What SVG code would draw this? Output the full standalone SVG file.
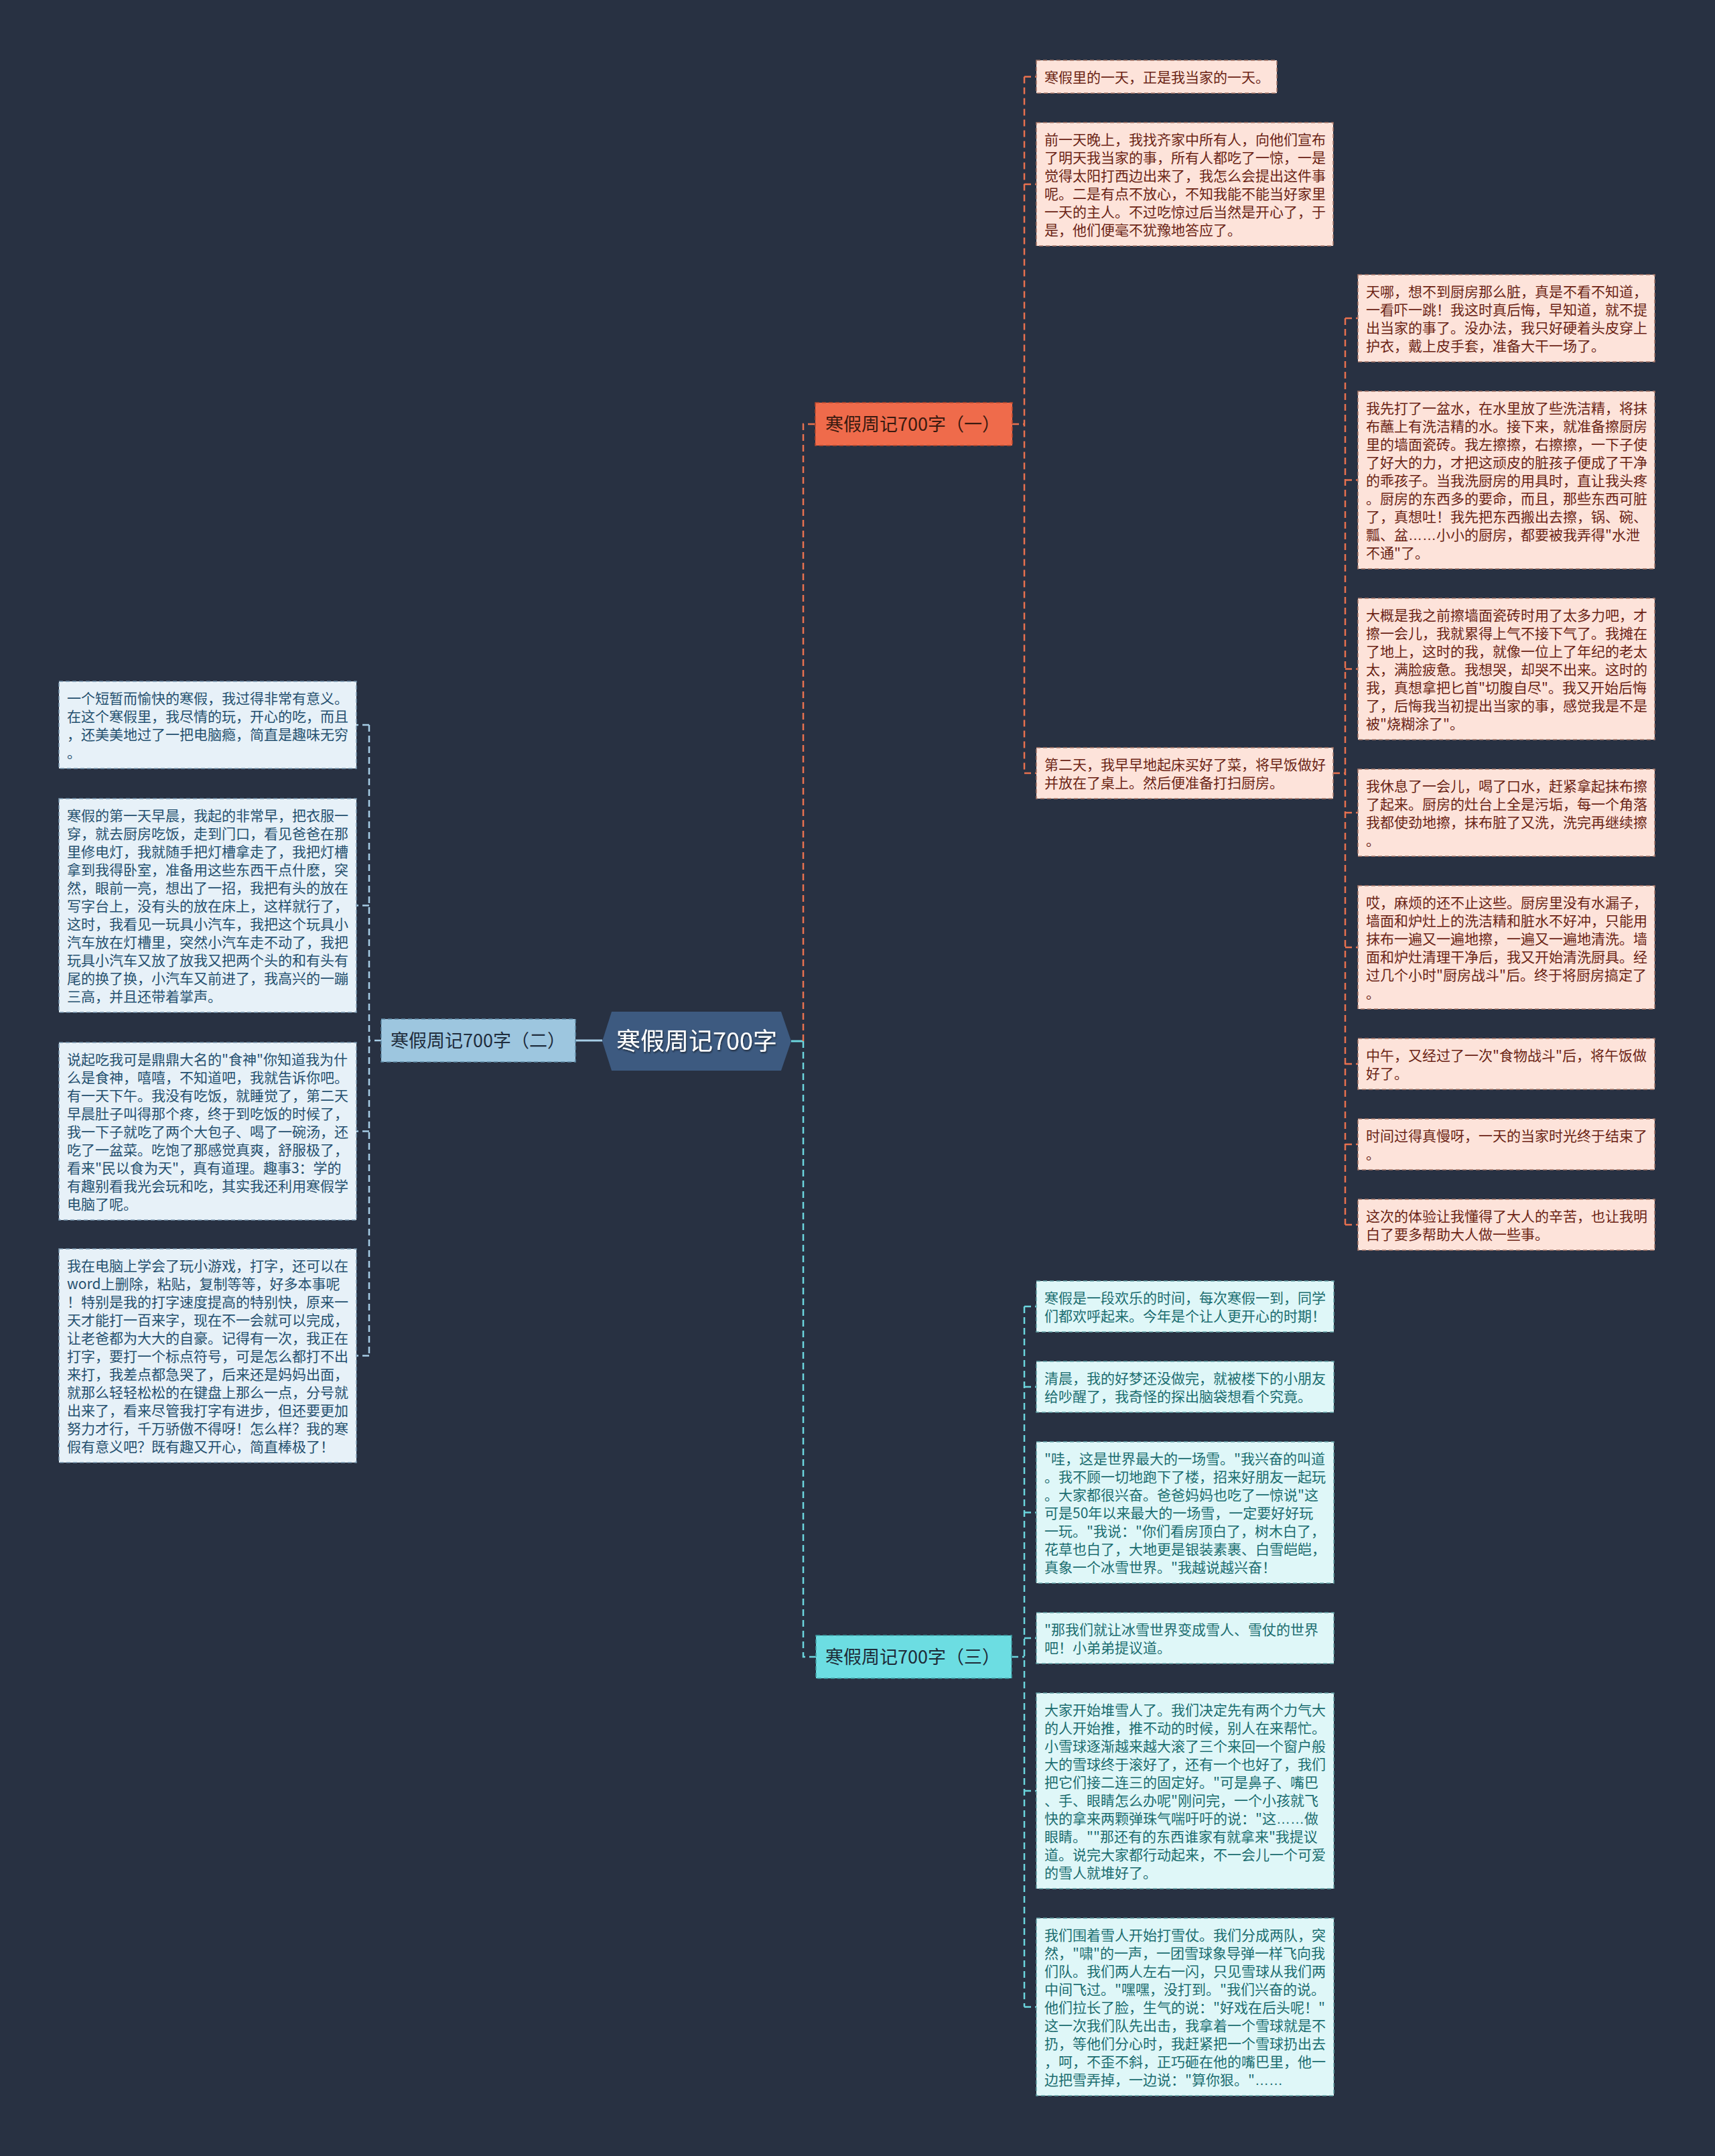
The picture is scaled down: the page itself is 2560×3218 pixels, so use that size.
<svg xmlns="http://www.w3.org/2000/svg" width="2560" height="3218" viewBox="0 0 2560 3218">
<defs>
<style>
text{font-family:"Noto Sans CJK SC","Noto Sans",sans-serif;}
.el{font-family:"Liberation Sans",sans-serif;}
.p rect{fill:#fde3da;stroke:#a8786a;stroke-width:1.5;stroke-dasharray:6 4;}
.p text{fill:#6b2415;font-size:21px;}
.b rect{fill:#e7f1f8;stroke:#7a98b0;stroke-width:1.5;stroke-dasharray:6 4;}
.b text{fill:#25506f;font-size:21px;}
.c rect{fill:#dff7f8;stroke:#64a4a8;stroke-width:1.5;stroke-dasharray:6 4;}
.c text{fill:#1b6d70;font-size:21px;}
.br text{font-size:27px;}
.cn path{fill:none;stroke-width:2.5;stroke-dasharray:10 6;}
.o{stroke:#e8714f;}
.lb{stroke:#a6cde6;}
.cy{stroke:#6bd5dd;}
</style>
<filter id="sh" x="-10%" y="-10%" width="120%" height="130%"><feDropShadow dx="1" dy="2" stdDeviation="1" flood-color="#17202c" flood-opacity="0.8"/></filter>
</defs>
<rect width="2560" height="3218" fill="#283142"/>

<g id="connectors" class="cn">
<path class="lb" d="M859,1553 H899" style="stroke-dasharray:none;stroke-width:3"/>
<path class="cy" d="M1181,1554 H1199" style="stroke-dasharray:none;stroke-width:3"/>
<path class="o" d="M1199,1554 V633 H1217"/>
<path class="cy" d="M1199,1554 V2473 H1218"/>
<path class="o" d="M1511,633 H1529 M1529,114.5 V1154 M1529,114.5 H1547 M1529,275 H1547 M1529,1154 H1547"/>
<path class="o" d="M1990,1154 H2008 M2008,475 V1828 M2008,475 H2027 M2008,716.5 H2027 M2008,998.5 H2027 M2008,1213 H2027 M2008,1414 H2027 M2008,1588 H2027 M2008,1708 H2027 M2008,1828 H2027"/>
<path class="lb" d="M569,1553 H551 M551,1082 V2023.5 M551,1082 H532 M551,1351.5 H532 M551,1688.5 H532 M551,2023.5 H532"/>
<path class="cy" d="M1510,2473 H1529 M1529,1950 V2995.5 M1529,1950 H1547 M1529,2070 H1547 M1529,2257.5 H1547 M1529,2445 H1547 M1529,2673 H1547 M1529,2995.5 H1547"/>
</g>

<g id="root">
<polygon points="899,1554 913,1510 1166,1510 1181,1554 1166,1598 913,1598" fill="#3d5a80"/>
<text x="1040" y="1567" font-size="36" fill="#ffffff" text-anchor="middle" filter="url(#sh)">寒假周记700字</text>
</g>

<g id="branch1" class="br">
<rect x="1217" y="601" width="294" height="64" fill="#ef6b4b" stroke="#b5482e" stroke-width="1.5" stroke-dasharray="6 4"/>
<text x="1232" y="643" fill="#3a1a10">寒假周记700字（一）</text>
</g>
<g id="branch2" class="br">
<rect x="569" y="1521" width="290" height="64" fill="#9dc6df" stroke="#5f8aa6" stroke-width="1.5" stroke-dasharray="6 4"/>
<text x="583" y="1563" fill="#1f2d3d">寒假周记700字（二）</text>
</g>
<g id="branch3" class="br">
<rect x="1218" y="2441" width="292" height="64" fill="#6cdde2" stroke="#3f9ea4" stroke-width="1.5" stroke-dasharray="6 4"/>
<text x="1232" y="2483" fill="#1d2b38">寒假周记700字（三）</text>
</g>

<g id="n1" class="p"><rect x="1547" y="90" width="359" height="49"/>
<text x="1559" y="123">寒假里的一天，正是我当家的一天。</text></g>

<g id="n2" class="p"><rect x="1547" y="183" width="443" height="184"/>
<text x="1559" y="216">前一天晚上，我找齐家中所有人，向他们宣布</text>
<text x="1559" y="243">了明天我当家的事，所有人都吃了一惊，一是</text>
<text x="1559" y="270">觉得太阳打西边出来了，我怎么会提出这件事</text>
<text x="1559" y="297">呢。二是有点不放心，不知我能不能当好家里</text>
<text x="1559" y="324">一天的主人。不过吃惊过后当然是开心了，于</text>
<text x="1559" y="351">是，他们便毫不犹豫地答应了。</text></g>

<g id="n3" class="p"><rect x="1547" y="1116" width="443" height="76"/>
<text x="1559" y="1149">第二天，我早早地起床买好了菜，将早饭做好</text>
<text x="1559" y="1176">并放在了桌上。然后便准备打扫厨房。</text></g>

<g id="a1" class="p"><rect x="2027" y="410" width="443" height="130"/>
<text x="2039" y="443">天哪，想不到厨房那么脏，真是不看不知道，</text>
<text x="2039" y="470">一看吓一跳！我这时真后悔，早知道，就不提</text>
<text x="2039" y="497">出当家的事了。没办法，我只好硬着头皮穿上</text>
<text x="2039" y="524">护衣，戴上皮手套，准备大干一场了。</text></g>

<g id="a2" class="p"><rect x="2027" y="584" width="443" height="265"/>
<text x="2039" y="617">我先打了一盆水，在水里放了些洗洁精，将抹</text>
<text x="2039" y="644">布蘸上有洗洁精的水。接下来，就准备擦厨房</text>
<text x="2039" y="671">里的墙面瓷砖。我左擦擦，右擦擦，一下子使</text>
<text x="2039" y="698">了好大的力，才把这顽皮的脏孩子便成了干净</text>
<text x="2039" y="725">的乖孩子。当我洗厨房的用具时，直让我头疼</text>
<text x="2039" y="752">。厨房的东西多的要命，而且，那些东西可脏</text>
<text x="2039" y="779">了，真想吐！我先把东西搬出去擦，锅、碗、</text>
<text x="2039" y="806">瓢、盆<tspan class="el">……</tspan>小小的厨房，都要被我弄得"水泄</text>
<text x="2039" y="833">不通"了。</text></g>

<g id="a3" class="p"><rect x="2027" y="893" width="443" height="211"/>
<text x="2039" y="926">大概是我之前擦墙面瓷砖时用了太多力吧，才</text>
<text x="2039" y="953">擦一会儿，我就累得上气不接下气了。我摊在</text>
<text x="2039" y="980">了地上，这时的我，就像一位上了年纪的老太</text>
<text x="2039" y="1007">太，满脸疲惫。我想哭，却哭不出来。这时的</text>
<text x="2039" y="1034">我，真想拿把匕首"切腹自尽"。我又开始后悔</text>
<text x="2039" y="1061">了，后悔我当初提出当家的事，感觉我是不是</text>
<text x="2039" y="1088">被"烧糊涂了"。</text></g>

<g id="a4" class="p"><rect x="2027" y="1148" width="443" height="130"/>
<text x="2039" y="1181">我休息了一会儿，喝了口水，赶紧拿起抹布擦</text>
<text x="2039" y="1208">了起来。厨房的灶台上全是污垢，每一个角落</text>
<text x="2039" y="1235">我都使劲地擦，抹布脏了又洗，洗完再继续擦</text>
<text x="2039" y="1262">。</text></g>

<g id="a5" class="p"><rect x="2027" y="1322" width="443" height="184"/>
<text x="2039" y="1355">哎，麻烦的还不止这些。厨房里没有水漏子，</text>
<text x="2039" y="1382">墙面和炉灶上的洗洁精和脏水不好冲，只能用</text>
<text x="2039" y="1409">抹布一遍又一遍地擦，一遍又一遍地清洗。墙</text>
<text x="2039" y="1436">面和炉灶清理干净后，我又开始清洗厨具。经</text>
<text x="2039" y="1463">过几个小时"厨房战斗"后。终于将厨房搞定了</text>
<text x="2039" y="1490">。</text></g>

<g id="a6" class="p"><rect x="2027" y="1550" width="443" height="76"/>
<text x="2039" y="1583">中午，又经过了一次"食物战斗"后，将午饭做</text>
<text x="2039" y="1610">好了。</text></g>

<g id="a7" class="p"><rect x="2027" y="1670" width="443" height="76"/>
<text x="2039" y="1703">时间过得真慢呀，一天的当家时光终于结束了</text>
<text x="2039" y="1730">。</text></g>

<g id="a8" class="p"><rect x="2027" y="1790" width="443" height="76"/>
<text x="2039" y="1823">这次的体验让我懂得了大人的辛苦，也让我明</text>
<text x="2039" y="1850">白了要多帮助大人做一些事。</text></g>

<g id="c1" class="b"><rect x="88" y="1017" width="444" height="130"/>
<text x="100" y="1050">一个短暂而愉快的寒假，我过得非常有意义。</text>
<text x="100" y="1077">在这个寒假里，我尽情的玩，开心的吃，而且</text>
<text x="100" y="1104">，还美美地过了一把电脑瘾，简直是趣味无穷</text>
<text x="100" y="1131">。</text></g>

<g id="c2" class="b"><rect x="88" y="1192" width="444" height="319"/>
<text x="100" y="1225">寒假的第一天早晨，我起的非常早，把衣服一</text>
<text x="100" y="1252">穿，就去厨房吃饭，走到门口，看见爸爸在那</text>
<text x="100" y="1279">里修电灯，我就随手把灯槽拿走了，我把灯槽</text>
<text x="100" y="1306">拿到我得卧室，准备用这些东西干点什麽，突</text>
<text x="100" y="1333">然，眼前一亮，想出了一招，我把有头的放在</text>
<text x="100" y="1360">写字台上，没有头的放在床上，这样就行了，</text>
<text x="100" y="1387">这时，我看见一玩具小汽车，我把这个玩具小</text>
<text x="100" y="1414">汽车放在灯槽里，突然小汽车走不动了，我把</text>
<text x="100" y="1441">玩具小汽车又放了放我又把两个头的和有头有</text>
<text x="100" y="1468">尾的换了换，小汽车又前进了，我高兴的一蹦</text>
<text x="100" y="1495">三高，并且还带着掌声。</text></g>

<g id="c3" class="b"><rect x="88" y="1556" width="444" height="265"/>
<text x="100" y="1589">说起吃我可是鼎鼎大名的"食神"你知道我为什</text>
<text x="100" y="1616">么是食神，嘻嘻，不知道吧，我就告诉你吧。</text>
<text x="100" y="1643">有一天下午。我没有吃饭，就睡觉了，第二天</text>
<text x="100" y="1670">早晨肚子叫得那个疼，终于到吃饭的时候了，</text>
<text x="100" y="1697">我一下子就吃了两个大包子、喝了一碗汤，还</text>
<text x="100" y="1724">吃了一盆菜。吃饱了那感觉真爽，舒服极了，</text>
<text x="100" y="1751">看来"民以食为天"，真有道理。趣事3：学的</text>
<text x="100" y="1778">有趣别看我光会玩和吃，其实我还利用寒假学</text>
<text x="100" y="1805">电脑了呢。</text></g>

<g id="c4" class="b"><rect x="88" y="1864" width="444" height="319"/>
<text x="100" y="1897">我在电脑上学会了玩小游戏，打字，还可以在</text>
<text x="100" y="1924">word上删除，粘贴，复制等等，好多本事呢</text>
<text x="100" y="1951">！特别是我的打字速度提高的特别快，原来一</text>
<text x="100" y="1978">天才能打一百来字，现在不一会就可以完成，</text>
<text x="100" y="2005">让老爸都为大大的自豪。记得有一次，我正在</text>
<text x="100" y="2032">打字，要打一个标点符号，可是怎么都打不出</text>
<text x="100" y="2059">来打，我差点都急哭了，后来还是妈妈出面，</text>
<text x="100" y="2086">就那么轻轻松松的在键盘上那么一点，分号就</text>
<text x="100" y="2113">出来了，看来尽管我打字有进步，但还要更加</text>
<text x="100" y="2140">努力才行，千万骄傲不得呀！怎么样？我的寒</text>
<text x="100" y="2167">假有意义吧？既有趣又开心，简直棒极了！</text></g>

<g id="b1" class="c"><rect x="1547" y="1912" width="444" height="76"/>
<text x="1559" y="1945">寒假是一段欢乐的时间，每次寒假一到，同学</text>
<text x="1559" y="1972">们都欢呼起来。今年是个让人更开心的时期！</text></g>

<g id="b2" class="c"><rect x="1547" y="2032" width="444" height="76"/>
<text x="1559" y="2065">清晨，我的好梦还没做完，就被楼下的小朋友</text>
<text x="1559" y="2092">给吵醒了，我奇怪的探出脑袋想看个究竟。</text></g>

<g id="b3" class="c"><rect x="1547" y="2152" width="444" height="211"/>
<text x="1559" y="2185">"哇，这是世界最大的一场雪。"我兴奋的叫道</text>
<text x="1559" y="2212">。我不顾一切地跑下了楼，招来好朋友一起玩</text>
<text x="1559" y="2239">。大家都很兴奋。爸爸妈妈也吃了一惊说"这</text>
<text x="1559" y="2266">可是50年以来最大的一场雪，一定要好好玩</text>
<text x="1559" y="2293">一玩。"我说："你们看房顶白了，树木白了，</text>
<text x="1559" y="2320">花草也白了，大地更是银装素裹、白雪皑皑，</text>
<text x="1559" y="2347">真象一个冰雪世界。"我越说越兴奋！</text></g>

<g id="b4" class="c"><rect x="1547" y="2407" width="444" height="76"/>
<text x="1559" y="2440">"那我们就让冰雪世界变成雪人、雪仗的世界</text>
<text x="1559" y="2467">吧！小弟弟提议道。</text></g>

<g id="b5" class="c"><rect x="1547" y="2527" width="444" height="292"/>
<text x="1559" y="2560">大家开始堆雪人了。我们决定先有两个力气大</text>
<text x="1559" y="2587">的人开始推，推不动的时候，别人在来帮忙。</text>
<text x="1559" y="2614">小雪球逐渐越来越大滚了三个来回一个窗户般</text>
<text x="1559" y="2641">大的雪球终于滚好了，还有一个也好了，我们</text>
<text x="1559" y="2668">把它们接二连三的固定好。"可是鼻子、嘴巴</text>
<text x="1559" y="2695">、手、眼睛怎么办呢"刚问完，一个小孩就飞</text>
<text x="1559" y="2722">快的拿来两颗弹珠气喘吁吁的说："这<tspan class="el">……</tspan>做</text>
<text x="1559" y="2749">眼睛。""那还有的东西谁家有就拿来"我提议</text>
<text x="1559" y="2776">道。说完大家都行动起来，不一会儿一个可爱</text>
<text x="1559" y="2803">的雪人就堆好了。</text></g>

<g id="b6" class="c"><rect x="1547" y="2863" width="444" height="265"/>
<text x="1559" y="2896">我们围着雪人开始打雪仗。我们分成两队，突</text>
<text x="1559" y="2923">然，"啸"的一声，一团雪球象导弹一样飞向我</text>
<text x="1559" y="2950">们队。我们两人左右一闪，只见雪球从我们两</text>
<text x="1559" y="2977">中间飞过。"嘿嘿，没打到。"我们兴奋的说。</text>
<text x="1559" y="3004">他们拉长了脸，生气的说："好戏在后头呢！"</text>
<text x="1559" y="3031">这一次我们队先出击，我拿着一个雪球就是不</text>
<text x="1559" y="3058">扔，等他们分心时，我赶紧把一个雪球扔出去</text>
<text x="1559" y="3085">，呵，不歪不斜，正巧砸在他的嘴巴里，他一</text>
<text x="1559" y="3112">边把雪弄掉，一边说："算你狠。"<tspan class="el">……</tspan></text></g>
</svg>
